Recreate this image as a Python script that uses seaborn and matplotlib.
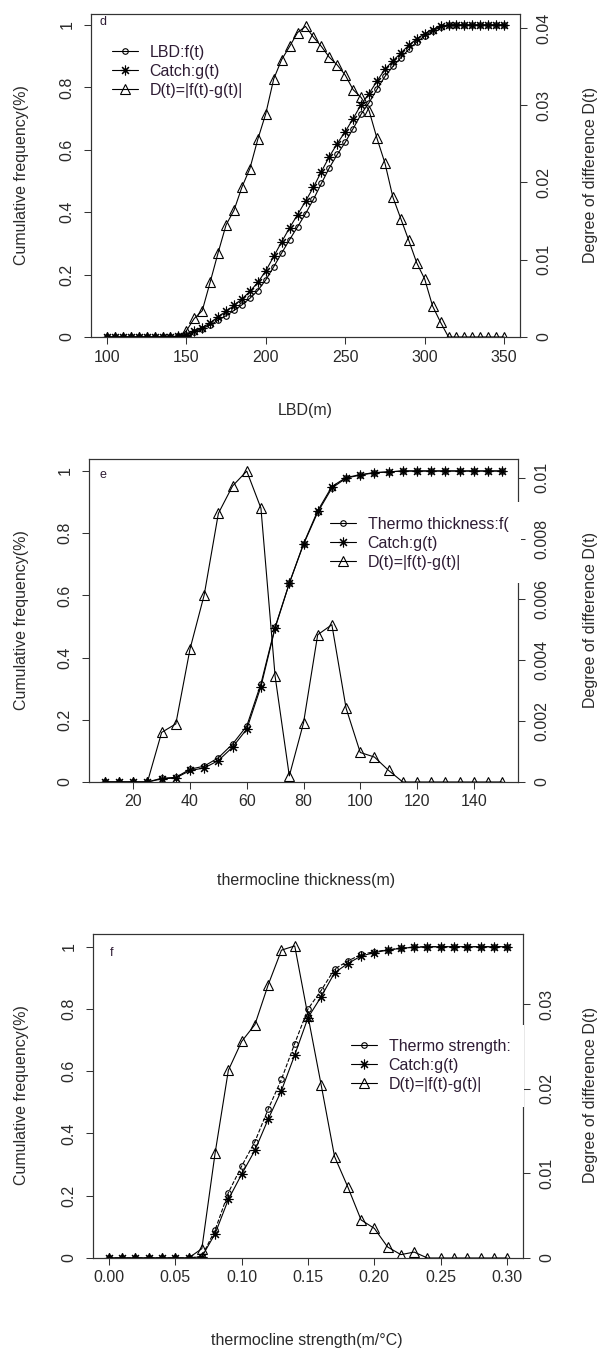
import matplotlib
matplotlib.use("Agg")
import matplotlib.pyplot as plt
from matplotlib.lines import Line2D
from matplotlib.patches import Rectangle
import seaborn as sns

# ---- panel d : LBD ----
lbd_x = [100, 105, 110, 115, 120, 125, 130, 135, 140, 145, 150, 155, 160, 165, 170,
         175, 180, 185, 190, 195, 200, 205, 210, 215, 220, 225, 230, 235, 240, 245,
         250, 255, 260, 265, 270, 275, 280, 285, 290, 295, 300, 305, 310, 315, 320,
         325, 330, 335, 340, 345, 350]
lbd_f = [0, 0, 0, 0, 0, 0, 0, 0, 0,
         0.003, 0.007, 0.016, 0.027, 0.038, 0.054, 0.068, 0.085, 0.103, 0.124,
         0.149, 0.183, 0.225, 0.269, 0.312, 0.353, 0.395, 0.441, 0.492, 0.542,
         0.585, 0.624, 0.668, 0.714, 0.751, 0.794, 0.835, 0.867, 0.895, 0.922,
         0.945, 0.964, 0.981, 0.993,
         1, 1, 1, 1, 1, 1, 1, 1]
lbd_g = [0, 0, 0, 0, 0, 0, 0, 0, 0,
         0.003, 0.008, 0.018, 0.030, 0.045, 0.065, 0.082, 0.101, 0.122, 0.146,
         0.175, 0.212, 0.258, 0.305, 0.350, 0.392, 0.435, 0.480, 0.530, 0.578,
         0.620, 0.658, 0.700, 0.745, 0.780, 0.820, 0.858, 0.885, 0.910, 0.935,
         0.955, 0.972, 0.985, 0.995,
         1, 1, 1, 1, 1, 1, 1, 1]
lbd_d = [0, 0, 0, 0, 0, 0, 0, 0, 0,
         0, 0.0008, 0.0024, 0.0034, 0.0071, 0.0109, 0.0145, 0.0164, 0.0194, 0.0218,
         0.0256, 0.0289, 0.0334, 0.0359, 0.0376, 0.0394, 0.0402, 0.0388, 0.0376, 0.0362,
         0.0352, 0.0339, 0.0320, 0.0310, 0.0293, 0.0257, 0.0225, 0.0181, 0.0153, 0.0125,
         0.0096, 0.0075, 0.0040, 0.0019,
         0, 0, 0, 0, 0, 0, 0, 0]

# ---- panel e : thermocline thickness ----
thk_x = [10, 15, 20, 25, 30, 35, 40, 45, 50, 55, 60, 65, 70, 75, 80,
         85, 90, 95, 100, 105, 110, 115, 120, 125, 130, 135, 140, 145, 150]
thk_f = [0, 0, 0, 0, 0.012, 0.015, 0.041, 0.051, 0.078, 0.122, 0.180, 0.316, 0.498,
         0.639, 0.764, 0.867, 0.945, 0.977, 0.987, 0.994, 0.997,
         1, 1, 1, 1, 1, 1, 1, 1]
thk_g = [0, 0, 0, 0, 0.010, 0.013, 0.037, 0.045, 0.069, 0.112, 0.170, 0.307, 0.495,
         0.639, 0.766, 0.872, 0.950, 0.979, 0.988, 0.995, 0.997,
         1, 1, 1, 1, 1, 1, 1, 1]
thk_d = [0, 0, 0, 0, 0.00163, 0.00191, 0.00437, 0.00615, 0.00883, 0.00973, 0.01022,
         0.0090, 0.00347, 0.0002, 0.00194, 0.00484, 0.00517, 0.00243, 0.00097,
         0.00082, 0.00038, 0, 0, 0, 0, 0, 0, 0, 0]

# ---- panel f : thermocline strength ----
str_x = [0.00, 0.01, 0.02, 0.03, 0.04, 0.05, 0.06, 0.07, 0.08, 0.09, 0.10,
         0.11, 0.12, 0.13, 0.14, 0.15, 0.16, 0.17, 0.18, 0.19, 0.20,
         0.21, 0.22, 0.23, 0.24, 0.25, 0.26, 0.27, 0.28, 0.29, 0.30]
str_f = [0, 0, 0, 0, 0, 0, 0,
         0.005, 0.090, 0.210, 0.295, 0.374, 0.478, 0.574, 0.689, 0.800, 0.860,
         0.928, 0.954, 0.975, 0.984, 0.990, 0.995, 0.999,
         1, 1, 1, 1, 1, 1, 1]
str_g = [0, 0, 0, 0, 0, 0, 0,
         0.004, 0.078, 0.188, 0.269, 0.346, 0.446, 0.538, 0.652, 0.772, 0.840,
         0.916, 0.946, 0.970, 0.981, 0.989, 0.995, 0.998,
         1, 1, 1, 1, 1, 1, 1]
str_d = [0, 0, 0, 0, 0, 0, 0,
         0.0011, 0.0124, 0.0222, 0.0256, 0.0276, 0.0323, 0.0364, 0.0369, 0.0286, 0.0204,
         0.0120, 0.0084, 0.0045, 0.0035, 0.0013, 0.0004, 0.0007,
         0, 0, 0, 0, 0, 0, 0]

cum_ticks = [0, 0.2, 0.4, 0.6, 0.8, 1]
cum_labels = ["0", "0.2", "0.4", "0.6", "0.8", "1"]

sns.set_style("ticks")
plt.rcParams['font.family'] = ['Liberation Sans', 'DejaVu Sans']

W, H = 611, 1362
fig = plt.figure(figsize=(W / 100, H / 100), dpi=100)
fig.patch.set_facecolor("white")

STAR = (8, 2, 0)
TXT = "#2a2a2a"
LEG = "#2e1c34"
FS = 11.5
MS_O, MS_S, MS_T = 4, 7, 6.5


def px_rect(l, t, r, b):
    return [l / W, 1 - b / H, (r - l) / W, (b - t) / H]


def style_axis(ax):
    ax.tick_params(direction="out", length=5, width=0.75, colors="#333333",
                   labelcolor=TXT, labelsize=FS, pad=4)
    for s in ax.spines.values():
        s.set_visible(True)
        s.set_color("#333333")
        s.set_linewidth(0.8)


def draw_panel(rect, x, f, g, d, xlim, yl_top, yr_top, xticks, xticklabels,
               rticks, rticklabels, letter, letter_xy, labels, leg_xy, cover=None,
               f_dash=False):
    ax = fig.add_axes(rect)
    ax2 = ax.twinx()
    sns.lineplot(x=x, y=f, ax=ax, color="k", marker="o", markersize=MS_O,
                 markerfacecolor="none", markeredgecolor="k", markeredgewidth=0.8,
                 linewidth=0.8, linestyle="--" if f_dash else "-", errorbar=None)
    sns.lineplot(x=x, y=g, ax=ax, color="k", marker=STAR, markersize=MS_S,
                 markeredgecolor="k", markeredgewidth=0.8, linewidth=0.8,
                 errorbar=None)
    sns.lineplot(x=x, y=d, ax=ax2, color="k", marker="^", markersize=MS_T,
                 markerfacecolor="none", markeredgecolor="k", markeredgewidth=0.8,
                 linewidth=0.8, errorbar=None)
    ax.set_xlim(*xlim)
    ax.set_ylim(0, yl_top)
    ax2.set_ylim(0, yr_top)
    ax.set_xticks(xticks)
    ax.set_xticklabels(xticklabels)
    ax.set_yticks(cum_ticks)
    ax.set_yticklabels(cum_labels, rotation=90, va="center")
    ax2.set_yticks(rticks)
    ax2.set_yticklabels(rticklabels, rotation=90, va="center")
    ax.set_xlabel("")
    ax.set_ylabel("")
    ax2.set_ylabel("")
    style_axis(ax)
    style_axis(ax2)
    ax.tick_params(axis="y", pad=7)
    ax2.tick_params(axis="y", pad=7)
    ax.text(letter_xy[0], letter_xy[1], letter, transform=ax.transAxes,
            fontsize=9, color=LEG, ha="left", va="center")

    if cover is not None:
        l, t, r, b = cover
        ax2.add_patch(Rectangle((l / W, 1 - b / H), (r - l) / W, (b - t) / H,
                                transform=fig.transFigure, facecolor="white",
                                edgecolor="none", zorder=3, clip_on=False))
    handles = [
        Line2D([], [], color="k", marker="o", markersize=MS_O, markerfacecolor="none",
               linewidth=0.8, markeredgewidth=0.8),
        Line2D([], [], color="k", marker=STAR, markersize=MS_S, linewidth=0.8,
               markeredgewidth=0.8),
        Line2D([], [], color="k", marker="^", markersize=MS_T, markerfacecolor="none",
               linewidth=0.8, markeredgewidth=0.8),
    ]
    leg = ax2.legend(handles, labels, loc="upper left",
                     bbox_to_anchor=(leg_xy[0] / W, 1 - leg_xy[1] / H),
                     bbox_transform=fig.transFigure, frameon=False, fontsize=11.5,
                     handlelength=1.6, handletextpad=0.75, labelspacing=0.25,
                     borderpad=0, borderaxespad=0)
    leg.set_zorder(6)
    for t in leg.get_texts():
        t.set_color(LEG)
    return ax, ax2


draw_panel(px_rect(91, 14, 520, 337), lbd_x, lbd_f, lbd_g, lbd_d,
           (90, 360), 1.035, 0.0418,
           [100, 150, 200, 250, 300, 350], ["100", "150", "200", "250", "300", "350"],
           [0, 0.01, 0.02, 0.03, 0.04], ["0", "0.01", "0.02", "0.03", "0.04"],
           "d", (0.02, 0.975),
           ["LBD:f(t)", "Catch:g(t)", "D(t)=|f(t)-g(t)|"], (112, 45))

draw_panel(px_rect(89, 459, 518, 782), thk_x, thk_f, thk_g, thk_d,
           (4.4, 155.6), 1.0385, 0.010617,
           [20, 40, 60, 80, 100, 120, 140], ["20", "40", "60", "80", "100", "120", "140"],
           [0, 0.002, 0.004, 0.006, 0.008, 0.01],
           ["0", "0.002", "0.004", "0.006", "0.008", "0.01"],
           "e", (0.025, 0.95),
           ["Thermo thickness:f(", "Catch:g(t)", "D(t)=|f(t)-g(t)|"], (330, 517),
           cover=(326, 502, 521, 583))

draw_panel(px_rect(93, 934, 523, 1258), str_x, str_f, str_g, str_d,
           (-0.012, 0.312), 1.0408, 0.03831,
           [0.00, 0.05, 0.10, 0.15, 0.20, 0.25, 0.30],
           ["0.00", "0.05", "0.10", "0.15", "0.20", "0.25", "0.30"],
           [0, 0.01, 0.02, 0.03], ["0", "0.01", "0.02", "0.03"],
           "f", (0.04, 0.94),
           ["Thermo strength:", "Catch:g(t)", "D(t)=|f(t)-g(t)|"], (351, 1039),
           cover=(347, 1025, 524, 1107), f_dash=True)

# axis titles
for yc in [175, 620, 1095]:
    fig.text(22 / W, 1 - yc / H, "Cumulative frequency(%)", rotation=90,
             ha="center", va="center", fontsize=FS, color=TXT)
    fig.text(590 / W, 1 - yc / H, "Degree of difference D(t)", rotation=90,
             ha="center", va="center", fontsize=FS, color=TXT)
fig.text(305 / W, 1 - 410 / H, "LBD(m)", ha="center", va="center", fontsize=FS, color=TXT)
fig.text(306 / W, 1 - 880 / H, "thermocline thickness(m)", ha="center", va="center",
         fontsize=FS, color=TXT)
fig.text(307 / W, 1 - 1340 / H, "thermocline strength(m/°C)", ha="center", va="center",
         fontsize=FS, color=TXT)

fig.savefig("out.png", dpi=100, facecolor="white")
